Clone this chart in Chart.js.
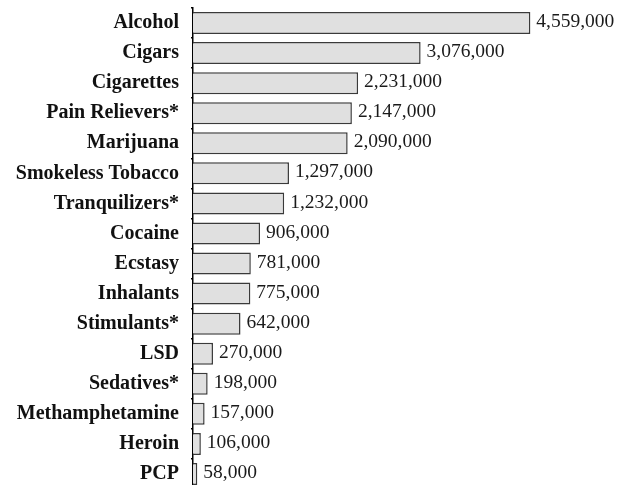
<!DOCTYPE html>
<html>
<head>
<meta charset="utf-8">
<script src="https://cdn.jsdelivr.net/npm/chart.js@4.4.0/dist/chart.umd.min.js"></script>
<style>
  html, body { margin: 0; padding: 0; background: #fff; overflow: hidden; }
  #wrap { position: relative; width: 621px; height: 490px; }
</style>
</head>
<body>
<div id="wrap"><canvas id="drugChart"></canvas></div>
<script>
// substances, top to bottom
const substances = ["Alcohol", "Cigars", "Cigarettes", "Pain Relievers*", "Marijuana",
  "Smokeless Tobacco", "Tranquilizers*", "Cocaine", "Ecstasy", "Inhalants",
  "Stimulants*", "LSD", "Sedatives*", "Methamphetamine", "Heroin", "PCP"];
// number of persons
const persons = [4559000, 3076000, 2231000, 2147000, 2090000,
  1297000, 1232000, 906000, 781000, 775000,
  642000, 270000, 198000, 157000, 106000, 58000];

// writes the value to the right of every bar
const valueLabels = {
  id: "valueLabels",
  afterDatasetsDraw(chart) {
    const ctx = chart.ctx;
    const meta = chart.getDatasetMeta(0);
    ctx.save();
    ctx.font = "19.5px 'Liberation Serif', 'Times New Roman', serif";
    ctx.fillStyle = "#1a1a1a";
    ctx.textAlign = "left";
    ctx.textBaseline = "middle";
    meta.data.forEach((bar, i) => {
      ctx.fillText(persons[i].toLocaleString("en-US"), bar.x + 6, bar.y - 1);
    });
    ctx.restore();
  }
};

const canvas = document.getElementById("drugChart");
new Chart(canvas, {
  type: "bar",
  data: {
    labels: substances,
    datasets: [{
      data: persons,
      backgroundColor: "#e0e0e0",
      borderColor: "#3a3a3a",
      borderWidth: 1.5,
      borderSkipped: "left",
      barPercentage: 0.73,
      categoryPercentage: 1
    }]
  },
  options: {
    indexAxis: "y",
    responsive: true,
    maintainAspectRatio: false,
    animation: false,
    layout: { padding: { left: 0, right: 58, top: 8, bottom: 1 } },
    plugins: { legend: { display: false }, tooltip: { enabled: false } },
    scales: {
      x: { display: false, min: 0, max: 5000000 },
      y: {
        afterFit(scale) {
          scale.width = 193;
          scale.paddingTop = 0;
          scale.paddingBottom = 0;
        },
        border: { display: true, color: "#000", width: 1.5 },
        grid: { drawOnChartArea: false, tickLength: 2, color: "#000", lineWidth: 1.5 },
        ticks: {
          padding: 12,
          color: "#111",
          font: { family: "'Liberation Serif', 'Times New Roman', serif", size: 20, weight: "bold" }
        }
      }
    }
  },
  plugins: [valueLabels]
});
</script>
</body>
</html>
